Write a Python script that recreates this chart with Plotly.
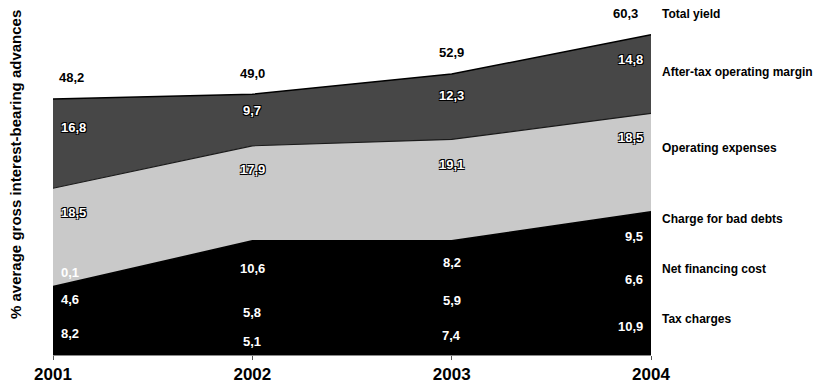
import plotly.graph_objects as go

# Yield decomposition, % of average gross interest-bearing advances
years = [2001, 2002, 2003, 2004]
year_labels = ["2001", "2002", "2003", "2004"]

tax_charges = [8.2, 5.1, 7.4, 10.9]
net_financing_cost = [4.6, 5.8, 5.9, 6.6]
charge_bad_debts = [0.1, 10.6, 8.2, 9.5]
operating_expenses = [18.5, 17.9, 19.1, 18.5]
after_tax_margin = [16.8, 9.7, 12.3, 14.8]
total_yield = [48.2, 49.0, 52.9, 60.3]

series_names = ["Tax charges", "Net financing cost", "Charge for bad debts",
                "Operating expenses", "After-tax operating margin"]
series_values = [tax_charges, net_financing_cost, charge_bad_debts,
                 operating_expenses, after_tax_margin]

# styling per layer (bottom to top)
fill_colors = ["#000000", "#000000", "#000000", "#c9c9c9", "#474747"]
line_colors = ["#000000", "#000000", "#000000", "#1a1a1a", "#000000"]
line_widths = [2.5, 2.5, 1.5, 1.2, 1.5]
label_frac = [0.5, 0.5, 0.5, 0.75, 0.68]
halo = [False, False, False, True, True]

FONT = "Liberation Sans, Arial, sans-serif"
OUTLINE = "-1px -1px 0 #000, 1px -1px 0 #000, -1px 1px 0 #000, 1px 1px 0 #000"

fig = go.Figure()
for name, vals, fc, lc, lw in zip(series_names, series_values, fill_colors,
                                  line_colors, line_widths):
    fig.add_trace(go.Scatter(
        x=years, y=vals, name=name, mode="lines", stackgroup="s",
        fillcolor=fc, line=dict(color=lc, width=lw), hoverinfo="x+y+name",
    ))

def fmt(v):
    return f"{v:.1f}".replace(".", ",")

def x_place(i):
    if i == 0:
        return dict(xanchor="left", xshift=6)
    if i == len(years) - 1:
        return dict(xanchor="right", xshift=-6)
    return dict(xanchor="center", xshift=0)

annotations = []
base = [0.0] * len(years)
for k, vals in enumerate(series_values):
    for i, v in enumerate(vals):
        ypos = base[i] + v * label_frac[k]
        yshift = 0
        if v < 1:
            ypos = base[i] + v
            yshift = 14
        font = dict(family=FONT, size=13, color="white", weight="bold")
        if halo[k]:
            font["shadow"] = OUTLINE
        annotations.append(dict(
            x=years[i], y=ypos, xref="x", yref="y", text=fmt(v),
            showarrow=False, font=font, yanchor="middle", yshift=yshift,
            **x_place(i)))
    base = [b + v for b, v in zip(base, vals)]

# total yield above each stack
for i, t in enumerate(total_yield):
    p = x_place(i)
    if i == len(years) - 1:
        p["xshift"] = -11
    elif i == 0:
        p["xshift"] = 4
    annotations.append(dict(
        x=years[i], y=t, xref="x", yref="y", text=fmt(t), showarrow=False,
        yanchor="bottom", yshift=12,
        font=dict(family=FONT, size=13, color="black", weight="bold"), **p))

# series names at the right of the chart
legend_names = series_names + ["Total yield"]
legend_px = [319, 269, 219, 148, 72, 14]
PLOT_H = 355
for name, py in zip(legend_names, legend_px):
    annotations.append(dict(
        x=1, y=(PLOT_H - py) / PLOT_H, xref="paper", yref="paper", text=name,
        showarrow=False, xanchor="left", yanchor="middle", xshift=9,
        font=dict(family=FONT, size=12, color="black", weight="bold")))

# vertical axis title
annotations.append(dict(
    x=0, y=(PLOT_H - 165) / PLOT_H, xref="paper", yref="paper",
    text="% average gross interest-bearing advances", textangle=-90,
    showarrow=False, xanchor="center", yanchor="middle", xshift=-38,
    font=dict(family=FONT, size=15, color="black", weight="bold")))

fig.update_layout(
    width=818, height=392,
    margin=dict(l=53, r=167, t=0, b=37),
    paper_bgcolor="white", plot_bgcolor="white",
    showlegend=False,
    annotations=annotations,
    xaxis=dict(range=[2001, 2004], tickvals=years, ticktext=year_labels,
               showgrid=False, zeroline=False, showline=True,
               linecolor="#8a8a8a", linewidth=1, ticks="outside", ticklen=4,
               tickcolor="#555", tickwidth=1,
               tickfont=dict(family=FONT, size=17, color="black", weight="bold")),
    yaxis=dict(range=[0, PLOT_H / 5.31], visible=False, fixedrange=True),
)

fig.write_html("out.html")
